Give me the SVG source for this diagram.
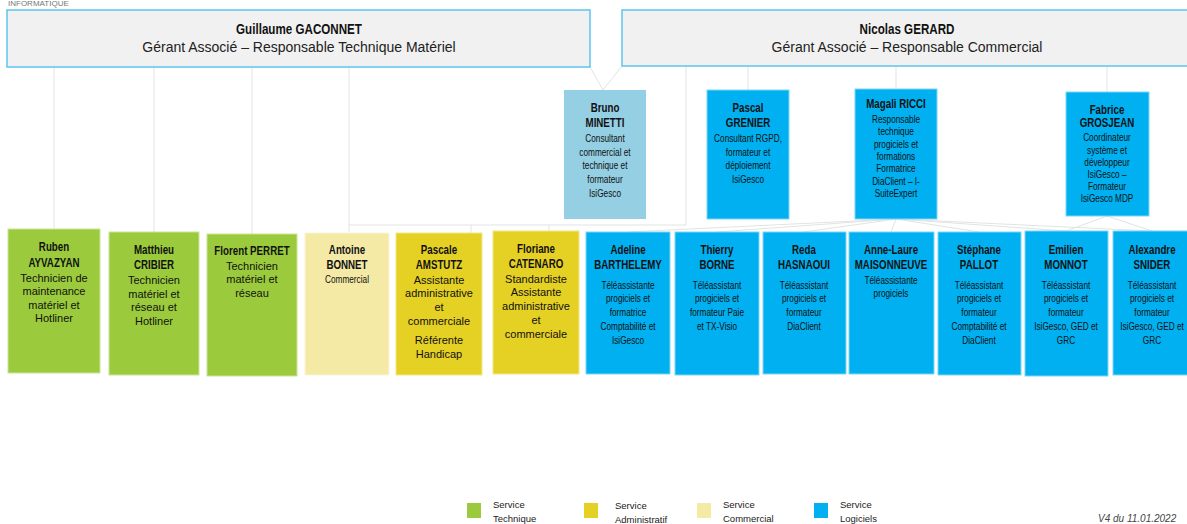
<svg xmlns="http://www.w3.org/2000/svg" width="1187" height="524" viewBox="0 0 1187 524">
<style>
.nm{font-family:"Liberation Sans",Arial,sans-serif;font-weight:bold;font-size:13px;text-anchor:middle;fill:#111}
.dc{font-family:"Liberation Sans",Arial,sans-serif;font-size:11px;text-anchor:middle;fill:#111}
.ds{font-family:"Liberation Sans",Arial,sans-serif;font-size:11px;text-anchor:middle;fill:#111}
.tt{font-family:"Liberation Sans",Arial,sans-serif;font-size:14px;text-anchor:middle;fill:#222}
.tn{font-family:"Liberation Sans",Arial,sans-serif;font-weight:bold;font-size:14px;text-anchor:middle;fill:#111}
.lg{font-family:"Liberation Sans",Arial,sans-serif;font-size:9.5px;fill:#222}
.top{fill:#f1f1f1;stroke:#5cc5f0;stroke-width:1.5}
.gr{fill:#9bcb3c;stroke:#c9e59a;stroke-width:1}
.ad{fill:#e5d024;stroke:#f2e88a;stroke-width:1}
.cm{fill:#f4eaa6;stroke:#faf5d6;stroke-width:1}
.bl{fill:#00b0f0;stroke:#7fd6f7;stroke-width:1}
.lb{fill:#94cfe3}
.cn line,.cn polyline{stroke:#e3e3e3;stroke-width:1;fill:none}
</style>
<text x="8" y="6" style="font-family:'Liberation Sans',sans-serif;font-size:8px;fill:#777">INFORMATIQUE</text>
<g class="cn">
<line x1="54" y1="67" x2="54" y2="229"/>
<line x1="154" y1="67" x2="154" y2="232"/>
<line x1="252" y1="67" x2="252" y2="234"/>
<polyline points="349,67 349,225 686,225 686,66"/>
<line x1="349" y1="225" x2="349" y2="233"/>
<line x1="471" y1="225" x2="471" y2="233"/>
<line x1="549" y1="225" x2="549" y2="231"/>
<polyline points="590,67 603,90 622,66"/>
<line x1="748" y1="66" x2="748" y2="90"/>
<line x1="896" y1="66" x2="896" y2="89"/>
<line x1="1107" y1="66" x2="1107" y2="92"/>
<line x1="896" y1="219" x2="628" y2="232"/>
<line x1="896" y1="219" x2="717" y2="232"/>
<line x1="896" y1="219" x2="804" y2="232"/>
<line x1="896" y1="219" x2="891" y2="232"/>
<line x1="896" y1="219" x2="979" y2="232"/>
<line x1="896" y1="219" x2="1066" y2="231"/>
<line x1="896" y1="219" x2="1152" y2="231"/>
<line x1="1107" y1="216" x2="1066" y2="231"/>
<line x1="1107" y1="216" x2="1152" y2="231"/>
</g>
<g id="guillaume"><rect class="top" x="7" y="10" width="583" height="57"/><g transform="translate(299 0) scale(.83 1)"><text class="tn" x="0" y="34">Guillaume GACONNET</text></g><text class="tt" x="299" y="52">Gérant Associé – Responsable Technique Matériel</text></g>
<g id="nicolas"><rect class="top" x="622" y="10" width="570" height="56"/><g transform="translate(907 0) scale(.83 1)"><text class="tn" x="0" y="34">Nicolas GERARD</text></g><text class="tt" x="907" y="52">Gérant Associé – Responsable Commercial</text></g>
<g id="bruno"><rect class="lb" x="564" y="90" width="82" height="129"/><g transform="translate(605 0) scale(.75 1)"><text class="nm" x="0" y="112">Bruno</text><text class="nm" x="0" y="127">MINETTI</text><text class="dc" x="0" y="142">Consultant</text><text class="dc" x="0" y="156">commercial et</text><text class="dc" x="0" y="169">technique et</text><text class="dc" x="0" y="183">formateur</text><text class="dc" x="0" y="197">IsiGesco</text></g></g>
<g id="pascal"><rect class="bl" x="707" y="90" width="82" height="129"/><g transform="translate(748 0) scale(.75 1)"><text class="nm" x="0" y="112">Pascal</text><text class="nm" x="0" y="127">GRENIER</text><text class="dc" x="0" y="142">Consultant RGPD,</text><text class="dc" x="0" y="156">formateur et</text><text class="dc" x="0" y="169">déploiement</text><text class="dc" x="0" y="183">IsiGesco</text></g></g>
<g id="magali"><rect class="bl" x="855" y="89" width="82" height="130"/><g transform="translate(896 0) scale(.75 1)"><text class="nm" x="0" y="108">Magali RICCI</text><text class="dc" x="0" y="123">Responsable</text><text class="dc" x="0" y="135">technique</text><text class="dc" x="0" y="148">progiciels et</text><text class="dc" x="0" y="160">formations</text><text class="dc" x="0" y="172">Formatrice</text><text class="dc" x="0" y="185">DiaClient – I-</text><text class="dc" x="0" y="197">SuiteExpert</text></g></g>
<g id="fabrice"><rect class="bl" x="1066" y="92" width="83" height="124"/><g transform="translate(1107 0) scale(.75 1)"><text class="nm" x="0" y="114">Fabrice</text><text class="nm" x="0" y="127">GROSJEAN</text><text class="dc" x="0" y="141">Coordinateur</text><text class="dc" x="0" y="154">système et</text><text class="dc" x="0" y="166">développeur</text><text class="dc" x="0" y="178">IsiGesco –</text><text class="dc" x="0" y="190">Formateur</text><text class="dc" x="0" y="202">IsiGesco MDP</text></g></g>
<g id="ruben"><rect class="gr" x="8" y="229" width="92" height="144"/><g transform="translate(54 0) scale(.75 1)"><text class="nm" x="0" y="251">Ruben</text><text class="nm" x="0" y="267">AYVAZYAN</text></g><text class="ds" x="54" y="282">Technicien de</text><text class="ds" x="54" y="295">maintenance</text><text class="ds" x="54" y="309">matériel et</text><text class="ds" x="54" y="322">Hotliner</text></g>
<g id="matthieu"><rect class="gr" x="109" y="232" width="90" height="143"/><g transform="translate(154 0) scale(.75 1)"><text class="nm" x="0" y="254">Matthieu</text><text class="nm" x="0" y="269">CRIBIER</text></g><text class="ds" x="154" y="284">Technicien</text><text class="ds" x="154" y="298">matériel et</text><text class="ds" x="154" y="311">réseau et</text><text class="ds" x="154" y="325">Hotliner</text></g>
<g id="florent"><rect class="gr" x="207" y="234" width="90" height="142"/><g transform="translate(252 0) scale(.75 1)"><text class="nm" x="0" y="255">Florent PERRET</text></g><text class="ds" x="252" y="270">Technicien</text><text class="ds" x="252" y="283">matériel et</text><text class="ds" x="252" y="297">réseau</text></g>
<g id="antoine"><rect class="cm" x="305" y="233" width="84" height="142"/><g transform="translate(347 0) scale(.75 1)"><text class="nm" x="0" y="254">Antoine</text><text class="nm" x="0" y="269">BONNET</text><text class="dc" x="0" y="283">Commercial</text></g></g>
<g id="pascale"><rect class="ad" x="396" y="233" width="86" height="142"/><g transform="translate(439 0) scale(.75 1)"><text class="nm" x="0" y="254">Pascale</text><text class="nm" x="0" y="269">AMSTUTZ</text></g><text class="ds" x="439" y="284">Assistante</text><text class="ds" x="439" y="297">administrative</text><text class="ds" x="439" y="311">et</text><text class="ds" x="439" y="325">commerciale</text><text class="ds" x="439" y="344">Référente</text><text class="ds" x="439" y="358">Handicap</text></g>
<g id="floriane"><rect class="ad" x="493" y="231" width="86" height="143"/><g transform="translate(536 0) scale(.75 1)"><text class="nm" x="0" y="253">Floriane</text><text class="nm" x="0" y="268">CATENARO</text></g><text class="ds" x="536" y="283">Standardiste</text><text class="ds" x="536" y="296">Assistante</text><text class="ds" x="536" y="310">administrative</text><text class="ds" x="536" y="324">et</text><text class="ds" x="536" y="338">commerciale</text></g>
<g id="adeline"><rect class="bl" x="586" y="232" width="84" height="142"/><g transform="translate(628 0) scale(.75 1)"><text class="nm" x="0" y="254">Adeline</text><text class="nm" x="0" y="269">BARTHELEMY</text><text class="dc" x="0" y="289">Téléassistante</text><text class="dc" x="0" y="302">progiciels et</text><text class="dc" x="0" y="316">formatrice</text><text class="dc" x="0" y="330">Comptabilité et</text><text class="dc" x="0" y="344">IsiGesco</text></g></g>
<g id="thierry"><rect class="bl" x="675" y="232" width="84" height="143"/><g transform="translate(717 0) scale(.75 1)"><text class="nm" x="0" y="254">Thierry</text><text class="nm" x="0" y="269">BORNE</text><text class="dc" x="0" y="289">Téléassistant</text><text class="dc" x="0" y="302">progiciels et</text><text class="dc" x="0" y="316">formateur Paie</text><text class="dc" x="0" y="330">et TX-Visio</text></g></g>
<g id="reda"><rect class="bl" x="763" y="232" width="83" height="142"/><g transform="translate(804 0) scale(.75 1)"><text class="nm" x="0" y="254">Reda</text><text class="nm" x="0" y="269">HASNAOUI</text><text class="dc" x="0" y="289">Téléassistant</text><text class="dc" x="0" y="302">progiciels et</text><text class="dc" x="0" y="316">formateur</text><text class="dc" x="0" y="330">DiaClient</text></g></g>
<g id="annelaure"><rect class="bl" x="849" y="232" width="85" height="142"/><g transform="translate(891 0) scale(.75 1)"><text class="nm" x="0" y="254">Anne-Laure</text><text class="nm" x="0" y="269">MAISONNEUVE</text><text class="dc" x="0" y="284">Téléassistante</text><text class="dc" x="0" y="297">progiciels</text></g></g>
<g id="stephane"><rect class="bl" x="938" y="232" width="83" height="143"/><g transform="translate(979 0) scale(.75 1)"><text class="nm" x="0" y="254">Stéphane</text><text class="nm" x="0" y="269">PALLOT</text><text class="dc" x="0" y="289">Téléassistant</text><text class="dc" x="0" y="302">progiciels et</text><text class="dc" x="0" y="316">formateur</text><text class="dc" x="0" y="330">Comptabilité et</text><text class="dc" x="0" y="344">DiaClient</text></g></g>
<g id="emilien"><rect class="bl" x="1025" y="231" width="83" height="145"/><g transform="translate(1066 0) scale(.75 1)"><text class="nm" x="0" y="254">Emilien</text><text class="nm" x="0" y="269">MONNOT</text><text class="dc" x="0" y="289">Téléassistant</text><text class="dc" x="0" y="302">progiciels et</text><text class="dc" x="0" y="316">formateur</text><text class="dc" x="0" y="330">IsiGesco, GED et</text><text class="dc" x="0" y="344">GRC</text></g></g>
<g id="alexandre"><rect class="bl" x="1113" y="231" width="80" height="144"/><g transform="translate(1152 0) scale(.75 1)"><text class="nm" x="0" y="254">Alexandre</text><text class="nm" x="0" y="269">SNIDER</text><text class="dc" x="0" y="289">Téléassistant</text><text class="dc" x="0" y="302">progiciels et</text><text class="dc" x="0" y="316">formateur</text><text class="dc" x="0" y="330">IsiGesco, GED et</text><text class="dc" x="0" y="344">GRC</text></g></g>
<g id="legend">
<rect x="467" y="503" width="14" height="15" fill="#9bcb3c"/><text class="lg" x="493" y="508">Service</text><text class="lg" x="493" y="522">Technique</text>
<rect x="584" y="503" width="14" height="15" fill="#e5d024"/><text class="lg" x="615" y="509">Service</text><text class="lg" x="615" y="523">Administratif</text>
<rect x="697" y="503" width="14" height="15" fill="#f4eaa6"/><text class="lg" x="723" y="508">Service</text><text class="lg" x="723" y="522">Commercial</text>
<rect x="814" y="503" width="14" height="15" fill="#00b0f0"/><text class="lg" x="840" y="508">Service</text><text class="lg" x="840" y="522">Logiciels</text>
<text x="1098" y="522" style="font-family:'Liberation Sans',sans-serif;font-size:10px;font-style:italic;fill:#444">V4 du 11.01.2022</text>
</g>
</svg>
